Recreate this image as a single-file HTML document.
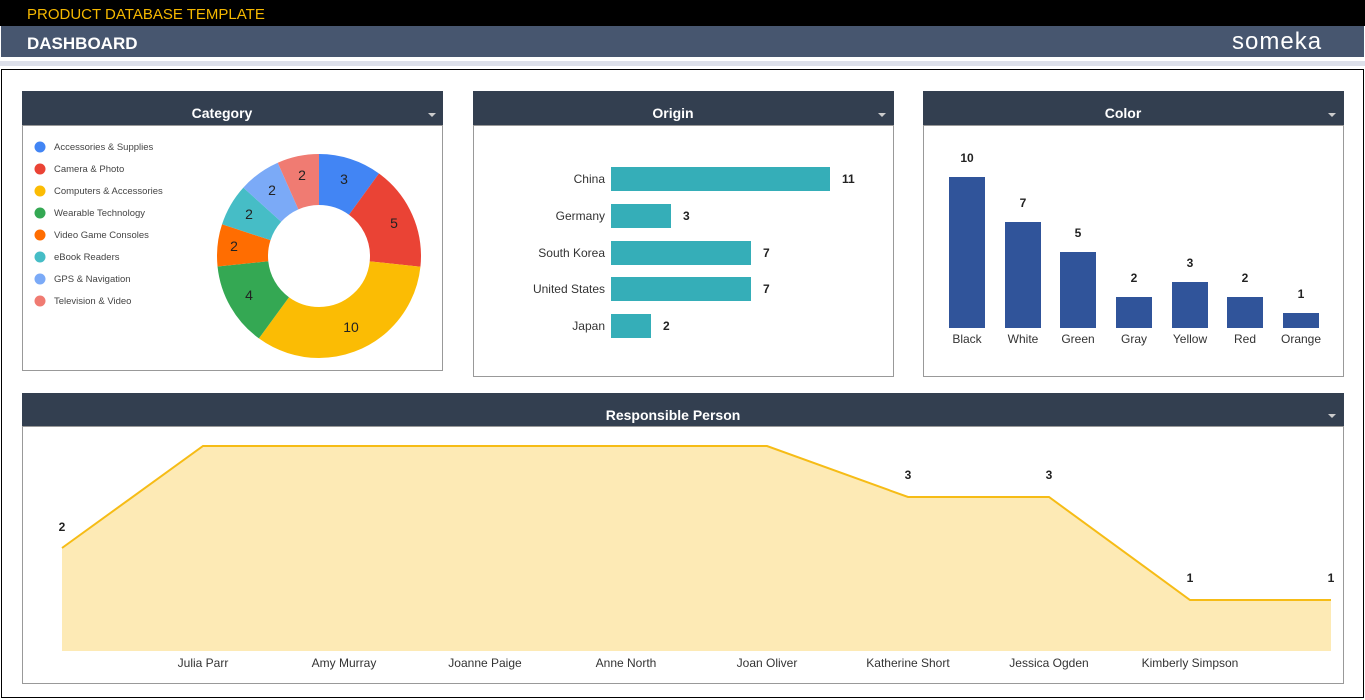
<!DOCTYPE html>
<html><head><meta charset="utf-8"><style>
html,body{margin:0;padding:0;background:#fff;width:1365px;height:700px;overflow:hidden;font-family:"Liberation Sans",sans-serif}
</style></head><body>
<svg width="1365" height="700" xmlns="http://www.w3.org/2000/svg" font-family="Liberation Sans, sans-serif">
<rect x="0" y="0" width="1365" height="26" fill="#000"/>
<text x="27" y="19" font-size="15" fill="#f5b800">PRODUCT DATABASE TEMPLATE</text>
<rect x="1" y="26" width="1363" height="31" fill="#47566f"/>
<text x="27" y="49" font-size="17" font-weight="bold" fill="#fff">DASHBOARD</text>
<text x="1232" y="49" font-size="24" fill="#fff" letter-spacing="1">someka</text>
<rect x="0" y="61" width="1365" height="5" fill="#dde0ea"/>
<rect x="1.5" y="69.5" width="1362" height="628" fill="#fff" stroke="#000" stroke-width="1"/>

<!-- Category -->
<rect x="22.5" y="125.5" width="420" height="245" fill="#fff" stroke="#999"/>
<rect x="22" y="91" width="421" height="34" fill="#333f50"/>
<text x="222" y="118" font-size="14" font-weight="bold" fill="#fff" text-anchor="middle">Category</text>
<path d="M428 113h8l-4 4z" fill="#ccc"/>
<g font-size="9.5" fill="#444">
<circle cx="40" cy="147" r="5.5" fill="#4285f4"/><text x="54" y="150">Accessories &amp; Supplies</text>
<circle cx="40" cy="169" r="5.5" fill="#ea4335"/><text x="54" y="172">Camera &amp; Photo</text>
<circle cx="40" cy="191" r="5.5" fill="#fbbc04"/><text x="54" y="194">Computers &amp; Accessories</text>
<circle cx="40" cy="213" r="5.5" fill="#34a853"/><text x="54" y="216">Wearable Technology</text>
<circle cx="40" cy="235" r="5.5" fill="#ff6d01"/><text x="54" y="238">Video Game Consoles</text>
<circle cx="40" cy="257" r="5.5" fill="#46bdc6"/><text x="54" y="260">eBook Readers</text>
<circle cx="40" cy="279" r="5.5" fill="#7baaf7"/><text x="54" y="282">GPS &amp; Navigation</text>
<circle cx="40" cy="301" r="5.5" fill="#f07b72"/><text x="54" y="304">Television &amp; Video</text>
</g>
<g transform="translate(319,256) rotate(-90)" fill="none" stroke-width="51">
<circle r="76.5" stroke="#4285f4" stroke-dasharray="48.07 480.66" stroke-dashoffset="0"/>
<circle r="76.5" stroke="#ea4335" stroke-dasharray="80.11 480.66" stroke-dashoffset="-48.07"/>
<circle r="76.5" stroke="#fbbc04" stroke-dasharray="160.22 480.66" stroke-dashoffset="-128.18"/>
<circle r="76.5" stroke="#34a853" stroke-dasharray="64.09 480.66" stroke-dashoffset="-288.4"/>
<circle r="76.5" stroke="#ff6d01" stroke-dasharray="32.04 480.66" stroke-dashoffset="-352.49"/>
<circle r="76.5" stroke="#46bdc6" stroke-dasharray="32.04 480.66" stroke-dashoffset="-384.53"/>
<circle r="76.5" stroke="#7baaf7" stroke-dasharray="32.04 480.66" stroke-dashoffset="-416.57"/>
<circle r="76.5" stroke="#f07b72" stroke-dasharray="32.04 480.66" stroke-dashoffset="-448.62"/>
</g>
<g font-size="14" fill="#222" text-anchor="middle">
<text x="344" y="184">3</text><text x="394" y="228">5</text><text x="351" y="332">10</text>
<text x="249" y="300">4</text><text x="234" y="251">2</text><text x="249" y="219">2</text>
<text x="272" y="195">2</text><text x="302" y="180">2</text>
</g>

<!-- Origin -->
<rect x="473.5" y="125.5" width="420" height="251" fill="#fff" stroke="#999"/>
<rect x="473" y="91" width="421" height="34" fill="#333f50"/>
<text x="673" y="118" font-size="14" font-weight="bold" fill="#fff" text-anchor="middle">Origin</text>
<path d="M878 113h8l-4 4z" fill="#ccc"/>
<g font-size="12" fill="#333" text-anchor="end">
<text x="605" y="183">China</text><text x="605" y="220">Germany</text><text x="605" y="257">South Korea</text>
<text x="605" y="293">United States</text><text x="605" y="330">Japan</text></g>
<g fill="#35aeb8">
<rect x="611" y="167" width="219" height="24"/><rect x="611" y="204" width="60" height="24"/>
<rect x="611" y="241" width="140" height="24"/><rect x="611" y="277" width="140" height="24"/>
<rect x="611" y="314" width="40" height="24"/></g>
<g font-size="12" font-weight="bold" fill="#222">
<text x="842" y="183">11</text><text x="683" y="220">3</text><text x="763" y="257">7</text>
<text x="763" y="293">7</text><text x="663" y="330">2</text></g>

<!-- Color -->
<rect x="923.5" y="125.5" width="420" height="251" fill="#fff" stroke="#999"/>
<rect x="923" y="91" width="421" height="34" fill="#333f50"/>
<text x="1123" y="118" font-size="14" font-weight="bold" fill="#fff" text-anchor="middle">Color</text>
<path d="M1328 113h8l-4 4z" fill="#ccc"/>
<g fill="#30549a">
<rect x="949" y="177" width="36" height="151"/><rect x="1005" y="222" width="36" height="106"/>
<rect x="1060" y="252" width="36" height="76"/><rect x="1116" y="297" width="36" height="31"/>
<rect x="1172" y="282" width="36" height="46"/><rect x="1227" y="297" width="36" height="31"/>
<rect x="1283" y="313" width="36" height="15"/></g>
<g font-size="12" font-weight="bold" fill="#222" text-anchor="middle">
<text x="967" y="162">10</text><text x="1023" y="207">7</text><text x="1078" y="237">5</text>
<text x="1134" y="282">2</text><text x="1190" y="267">3</text><text x="1245" y="282">2</text><text x="1301" y="298">1</text></g>
<g font-size="12" fill="#333" text-anchor="middle">
<text x="967" y="343">Black</text><text x="1023" y="343">White</text><text x="1078" y="343">Green</text>
<text x="1134" y="343">Gray</text><text x="1190" y="343">Yellow</text><text x="1245" y="343">Red</text><text x="1301" y="343">Orange</text></g>

<!-- Responsible -->
<rect x="22.5" y="426.5" width="1321" height="257" fill="#fff" stroke="#999"/>
<rect x="22" y="393" width="1322" height="33" fill="#333f50"/>
<text x="673" y="420" font-size="14" font-weight="bold" fill="#fff" text-anchor="middle">Responsible Person</text>
<path d="M1328 414h8l-4 4z" fill="#ccc"/>
<path d="M62 548L203 446L767 446L908 497L1049 497L1190 600L1331 600L1331 651L62 651Z" fill="#fdeab5"/>
<path d="M62 548L203 446L767 446L908 497L1049 497L1190 600L1331 600" fill="none" stroke="#f6bc16" stroke-width="2"/>
<g font-size="12" font-weight="bold" fill="#222" text-anchor="middle">
<text x="62" y="531">2</text><text x="908" y="479">3</text><text x="1049" y="479">3</text>
<text x="1190" y="582">1</text><text x="1331" y="582">1</text></g>
<g font-size="12" fill="#333" text-anchor="middle">
<text x="203" y="667">Julia Parr</text><text x="344" y="667">Amy Murray</text><text x="485" y="667">Joanne Paige</text>
<text x="626" y="667">Anne North</text><text x="767" y="667">Joan Oliver</text><text x="908" y="667">Katherine Short</text>
<text x="1049" y="667">Jessica Ogden</text><text x="1190" y="667">Kimberly Simpson</text></g>
</svg>
</body></html>
